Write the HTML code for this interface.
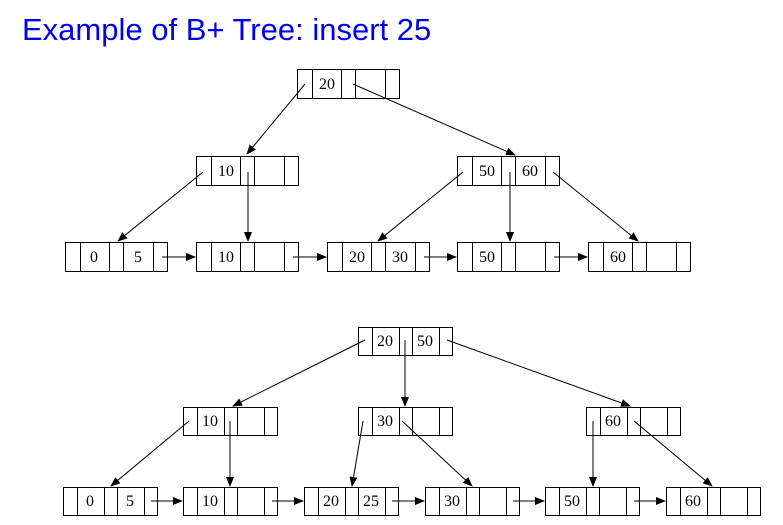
<!DOCTYPE html>
<html><head><meta charset="utf-8"><style>
html,body{margin:0;padding:0;background:#fff;width:783px;height:525px;overflow:hidden}
.t{position:absolute;left:22px;top:12px;font-family:"Liberation Sans",sans-serif;font-size:31px;color:#0000ee}
svg{position:absolute;left:0;top:0}
text{font-family:"Liberation Serif",serif;font-size:16px;fill:#000;text-anchor:middle}
</style></head><body>
<div class="t">Example of B+ Tree: insert 25</div>
<svg width="783" height="525" viewBox="0 0 783 525">
<defs>
<g id="A" fill="none" stroke="#000" stroke-width="1"><rect x="0.5" y="0.5" width="102" height="29"/><path d="M15.5 0.5v29M44.5 0.5v29M58.5 0.5v29M88.5 0.5v29"/></g>
<g id="B" fill="none" stroke="#000" stroke-width="1"><rect x="0.5" y="0.5" width="94" height="28"/><path d="M14.5 0.5v28M41.5 0.5v28M54.5 0.5v28M81.5 0.5v28"/></g>
<marker id="m" markerWidth="10" markerHeight="8" refX="9" refY="4" orient="auto" markerUnits="userSpaceOnUse"><path d="M0 0L10 4L0 8z" fill="#000"/></marker>
</defs>
<use href="#A" x="297" y="69"/>
<use href="#A" x="196" y="156"/><use href="#A" x="457" y="156"/>
<use href="#A" x="65" y="242"/><use href="#A" x="196" y="242"/><use href="#A" x="327" y="242"/><use href="#A" x="457" y="242"/><use href="#A" x="588" y="242"/>
<g>
<text x="327" y="89">20</text>
<text x="226" y="176">10</text>
<text x="487" y="176">50</text><text x="530" y="176">60</text>
<text x="94" y="262">0</text><text x="138" y="262">5</text>
<text x="226" y="262">10</text>
<text x="357" y="262">20</text><text x="400" y="262">30</text>
<text x="487" y="262">50</text>
<text x="618" y="262">60</text>
</g>
<g stroke="#000" stroke-width="1" marker-end="url(#m)">
<line x1="305" y1="84" x2="247" y2="154"/>
<line x1="353" y1="84" x2="515" y2="155"/>
<line x1="203" y1="172" x2="118" y2="241"/>
<line x1="248" y1="172" x2="248" y2="241"/>
<line x1="463" y1="172" x2="378" y2="241"/>
<line x1="510" y1="172" x2="510" y2="241"/>
<line x1="553" y1="172" x2="638" y2="241"/>
<line x1="162" y1="257" x2="195" y2="257"/>
<line x1="293" y1="257" x2="326" y2="257"/>
<line x1="424" y1="257" x2="456" y2="257"/>
<line x1="554" y1="257" x2="587" y2="257"/>
</g>
<use href="#B" x="358" y="327"/>
<use href="#B" x="183" y="407"/><use href="#B" x="358" y="407"/><use href="#B" x="586" y="407"/>
<use href="#B" x="63" y="487"/><use href="#B" x="183" y="487"/><use href="#B" x="304" y="487"/><use href="#B" x="425" y="487"/><use href="#B" x="545" y="487"/><use href="#B" x="666" y="487"/>
<g>
<text x="385" y="346">20</text><text x="425" y="346">50</text>
<text x="210" y="426">10</text>
<text x="385" y="426">30</text>
<text x="613" y="426">60</text>
<text x="90" y="506">0</text><text x="130" y="506">5</text>
<text x="210" y="506">10</text>
<text x="331" y="506">20</text><text x="371" y="506">25</text>
<text x="452" y="506">30</text>
<text x="572" y="506">50</text>
<text x="693" y="506">60</text>
</g>
<g stroke="#000" stroke-width="1" marker-end="url(#m)">
<line x1="365" y1="340" x2="233" y2="406"/>
<line x1="405" y1="340" x2="405" y2="406"/>
<line x1="447" y1="340" x2="630" y2="406"/>
<line x1="189" y1="421" x2="111" y2="486"/>
<line x1="230" y1="421" x2="230" y2="486"/>
<line x1="363" y1="421" x2="352" y2="486"/>
<line x1="402" y1="421" x2="472" y2="486"/>
<line x1="593" y1="421" x2="593" y2="486"/>
<line x1="634" y1="421" x2="712" y2="486"/>
<line x1="151" y1="501" x2="182" y2="501"/>
<line x1="272" y1="501" x2="303" y2="501"/>
<line x1="392" y1="501" x2="424" y2="501"/>
<line x1="513" y1="501" x2="544" y2="501"/>
<line x1="634" y1="501" x2="665" y2="501"/>
</g>
</svg>
</body></html>
